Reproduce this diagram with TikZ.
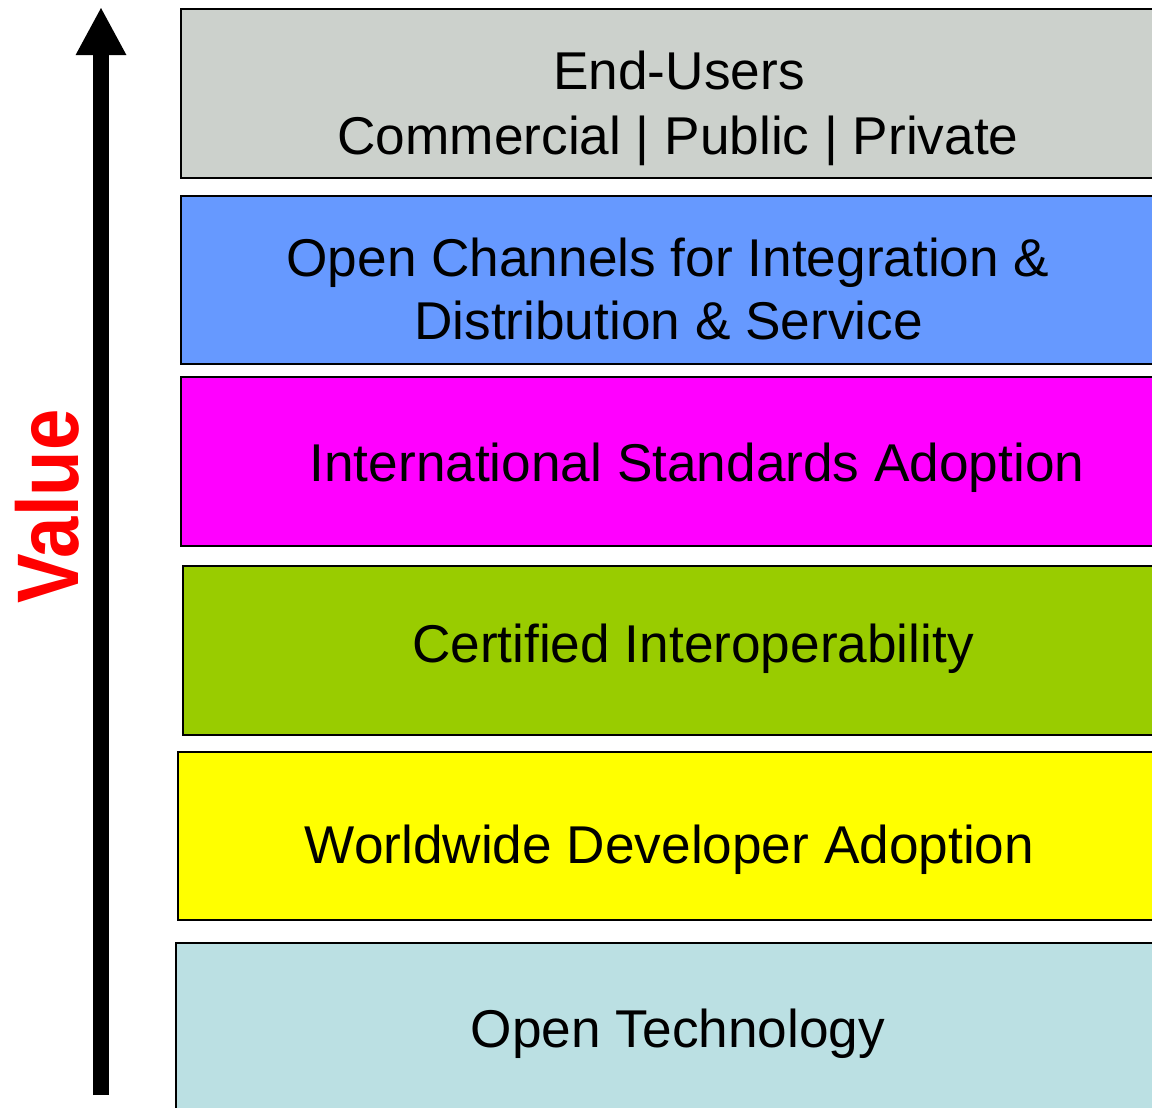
\documentclass[tikz,border=0pt]{standalone}
\usepackage{fontspec}
\setmainfont{Liberation Sans}
\usetikzlibrary{arrows.meta}
\definecolor{cGray}{RGB}{204,209,204}
\definecolor{cBlue}{RGB}{102,153,255}
\definecolor{cMag}{RGB}{255,0,255}
\definecolor{cGreen}{RGB}{153,204,0}
\definecolor{cYellow}{RGB}{255,255,0}
\definecolor{cLight}{RGB}{187,224,227}
\begin{document}
\begin{tikzpicture}[x=0.5pt,y=-0.5pt,
  layer/.style={draw=black,line width=1pt},
  lbl/.style={font=\fontsize{26.6}{32}\selectfont,inner sep=0pt,anchor=base,text=black}]
\clip (0,0) rectangle (1152,1108);
\fill[white] (0,0) rectangle (1152,1108);
% layers
\draw[layer,fill=cGray]   (181,9)   rectangle (1170,178);
\draw[layer,fill=cBlue]   (181,196) rectangle (1170,364);
\draw[layer,fill=cMag]    (181,377) rectangle (1170,546);
\draw[layer,fill=cGreen]  (183,566) rectangle (1170,735);
\draw[layer,fill=cYellow] (178,752) rectangle (1170,920);
\draw[layer,fill=cLight]  (176,943) rectangle (1170,1130);
% labels
\node[lbl] (t1a) at (679,90) {End-Users};
\node[lbl] (t1b) at (678,154) {Commercial | Public | Private};
\node[lbl] (t2a) at (668,276) {Open Channels for Integration \&};
\node[lbl] (t2b) at (668.5,339) {Distribution \& Service};
\node[lbl] (t3) at (697,481) {International Standards Adoption};
\node[lbl] (t4) at (693,662) {Certified Interoperability};
\node[lbl] (t5) at (669.5,863) {Worldwide Developer Adoption};
\node[lbl] (t6) at (678,1047) {Open Technology};
% value arrow
\coordinate (abot) at (101,1095);
\coordinate (atop) at (101,7);
\draw[line width=8pt,-{Triangle[width=23.5pt,length=24pt]}] (abot) -- (atop);
\node[font=\fontsize{43.7}{50}\selectfont\bfseries,text=red,rotate=90,anchor=base,inner sep=0pt] (val) at (78,506.5) {\scalebox{0.85}[1]{Value}};
\end{tikzpicture}
\end{document}
